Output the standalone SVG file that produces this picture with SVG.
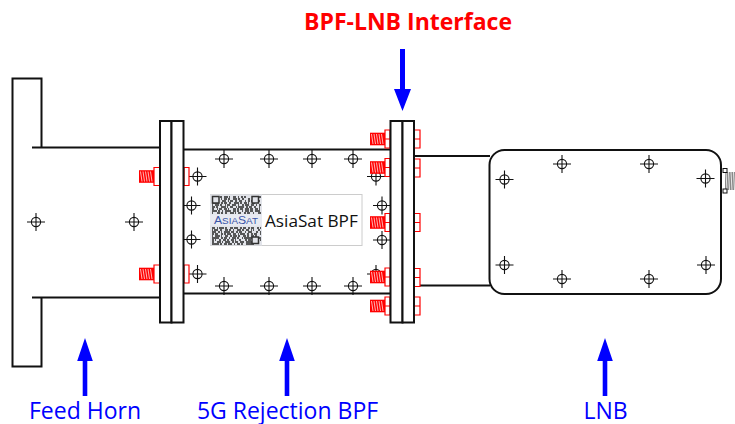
<svg xmlns="http://www.w3.org/2000/svg" width="735" height="424" viewBox="0 0 735 424">
<style>
.l{fill:none;stroke:#111;stroke-width:2}
.f{fill:#fff;stroke:#111;stroke-width:2}
.c{fill:none;stroke:#111;stroke-width:1.1}
.r{fill:#fff;stroke:#f00;stroke-width:1.2}
.t{fill:#00f;font-family:"Open Sans","Noto Sans",sans-serif;font-size:23px}
.a{fill:#00f}
.q{fill:none;stroke:#333;stroke-width:1.8;stroke-opacity:.8}
</style>
<defs>
<g id="x"><circle r="4.600" class="c"/><path d="M-9 0H9M0-9V9" class="c"/></g>
<g id="th"><rect x="0" y="-6.300" width="15" height="12.600" fill="#f00"/><path d="M1.500-5L3 5M4-5L5.500 5M6.500-5L8 5M9-5L10.500 5M11.500-5L13 5" stroke="#fff" stroke-width=".7" fill="none"/></g>
<g id="bf"><use href="#th" x="-21"/><path d="M-6-9H0V9H-6Z" class="r"/></g>
<g id="bl"><use href="#th" x="-20"/><path d="M-5-9H0V9H-5ZM-5 0H0" class="r"/></g>
<g id="nr"><path d="M0-9H6V9H0ZM0 0H6" class="r"/></g>
<g id="nl"><path d="M0-9H5V9H0Z" class="r"/></g>
</defs>
<g id="feed-horn">
<path class="l" d="M32 147.500H160M32 297.500H160M41.500 147.500V78.500H12.500V366.500H41.500V297.500"/>
<use href="#x" x="36" y="222"/><use href="#x" x="134" y="222"/>
<use href="#bf" x="160" y="176.500"/><use href="#bf" x="160" y="274"/>
</g>
<g id="bpf">
<path class="l" d="M184 149.500H390M184 293.500H390"/>
<use href="#x" x="224" y="159"/><use href="#x" x="269" y="159"/><use href="#x" x="312" y="159"/><use href="#x" x="353" y="159"/>
<use href="#x" x="224" y="286"/><use href="#x" x="269" y="286"/><use href="#x" x="312" y="286"/><use href="#x" x="353" y="286"/>
<use href="#x" x="197.500" y="176.500"/><use href="#x" x="197.500" y="274"/><use href="#x" x="191.500" y="205.500"/><use href="#x" x="191.500" y="239.500"/>
<use href="#x" x="376" y="176.500"/><use href="#x" x="376" y="274"/><use href="#x" x="382" y="205.500"/><use href="#x" x="382" y="240"/>
<use href="#nl" x="184" y="176.500"/><use href="#nl" x="184" y="274"/>
</g>
<g id="label">
<rect x="210.500" y="194.500" width="151.500" height="51" fill="#fff" stroke="#ccc" stroke-width="1"/>
<rect x="210" y="194.500" width="52" height="51" fill="#e2e4ea"/>
<g class="q">
<path d="M212 197H261" stroke-dasharray="7 1 2 2 4 1 1 3 3 2 1 2 2 1 2 8"/>
<path d="M212 199H261" stroke-dasharray="2 3 2 2 1 2 3 1 2 3 4 1 2 2 2 4 2 2 2"/>
<path d="M212 201H261" stroke-dasharray="2 1 1 1 2 3 4 2 1 1 3 2 2 2 3 3 1 2 2 1 2 2 2"/>
<path d="M212 203H261" stroke-dasharray="7 2 2 1 3 2 2 3 5 1 2 2 3 1 1 3 3"/>
<path d="M212 205H261" stroke-dasharray="1 2 4 1 2 3 1 1 3 2 4 2 1 3 2 1 4 2 3 2"/>
<path d="M212 207H261" stroke-dasharray="3 1 2 3 5 1 1 2 3 3 1 1 6 2 2 1 3 2 2"/>
<path d="M212 209H261" stroke-dasharray="2 3 1 1 3 2 3 1 1 4 3 1 2 1 3 2 4 1 3"/>
<path d="M212 211H261" stroke-dasharray="5 1 2 2 1 2 6 2 3 1 2 3 1 2 4 1 3 2"/>
<path d="M212 213H261" stroke-dasharray="1 4 3 1 2 2 2 3 4 1 1 2 3 3 2 1 3 3"/>
<path d="M212 228H261" stroke-dasharray="3 2 1 1 5 1 2 3 3 1 4 2 2 1 3 2 2 1 3"/>
<path d="M212 230H261" stroke-dasharray="1 1 4 2 2 3 3 1 2 2 1 3 4 1 2 2 3 2 1"/>
<path d="M212 232H261" stroke-dasharray="4 2 2 1 1 2 6 1 3 2 2 1 3 3 1 2 4"/>
<path d="M212 234H261" stroke-dasharray="2 1 3 3 2 1 2 1 4 2 3 2 1 1 5 2 2 2"/>
<path d="M212 236H261" stroke-dasharray="1 2 5 1 1 3 3 2 2 1 4 1 2 3 3 1 2 2 3"/>
<path d="M212 238H261" stroke-dasharray="7 2 2 1 3 2 1 2 4 1 2 3 1 1 8"/>
<path d="M212 240H261" stroke-dasharray="2 1 1 3 2 2 3 1 2 2 3 1 1 3 2 4 2 1 3"/>
<path d="M212 242H261" stroke-dasharray="2 3 4 1 1 2 5 2 2 1 3 2 4 2 6"/>
<path d="M212 244H261" stroke-dasharray="7 1 2 2 3 1 4 2 1 2 3 1 2 3 8"/>
</g>
<path d="M212.500 196.500h6.500v6.500h-6.500zM252 196.500h6.500v6.500h-6.500zM252 237h6.500v6.500h-6.500z" fill="#e2e4ea" stroke="#333" stroke-width="1.500"/>
<rect x="210" y="214.500" width="52" height="11" fill="#e8eaf1"/>
<text x="214" y="224" fill="#3a55a8" font-family="Liberation Sans,sans-serif" font-size="10.500" textLength="44" lengthAdjust="spacingAndGlyphs">A<tspan font-size="8.500">SIA</tspan>S<tspan font-size="8.500">AT</tspan></text>
<text x="265" y="226.500" fill="#111" font-family="Open Sans,Noto Sans,sans-serif" font-size="17.200">AsiaSat BPF</text>
</g>
<g id="lnb">
<path class="l" d="M414 156H490M414 285.500H490"/>
<rect x="725" y="172" width="10" height="18" fill="#888"/>
<path d="M726 172l1 18M728.500 172l1 18M731 172l1 18M733.500 172l1 18" stroke="#fff" stroke-width=".8"/>
<rect x="723" y="168.500" width="4" height="4" fill="#fff" stroke="#111"/><rect x="723" y="189" width="4" height="4" fill="#fff" stroke="#111"/>
<rect x="489.500" y="150" width="231.500" height="144" rx="15" ry="15" class="f"/>
<use href="#x" x="504.500" y="179.500"/><use href="#x" x="562" y="164"/><use href="#x" x="649" y="164"/><use href="#x" x="705.500" y="178.500"/>
<use href="#x" x="504.500" y="265"/><use href="#x" x="562" y="279"/><use href="#x" x="649" y="279"/><use href="#x" x="706" y="265"/>
</g>
<g id="flange-1">
<rect x="160" y="121" width="11.500" height="201.500" class="f"/><rect x="171.500" y="121" width="12" height="201.500" class="f"/>
</g>
<g id="flange-2">
<use href="#bl" x="390" y="139"/><use href="#bl" x="390" y="167.500"/><use href="#bl" x="390" y="222.500"/><use href="#bl" x="390" y="277"/><use href="#bl" x="390" y="306"/>
<use href="#nr" x="414" y="139"/><use href="#nr" x="414" y="168"/><use href="#nr" x="414" y="222.500"/><use href="#nr" x="414" y="277.500"/><use href="#nr" x="414" y="306"/>
<rect x="390.500" y="121" width="12" height="201.500" class="f"/><rect x="402.500" y="121" width="11.500" height="201.500" class="f"/>
</g>
<g id="connectors">
<path class="a" d="M400 49h5v40h6l-8.500 22-8.500-22h6z"/>
<path class="a" d="M82.700 396V361h-5.500l7.800-23 7.800 23h-5.500v35z"/>
<path class="a" d="M284.700 396V361h-5.500l7.800-23 7.800 23h-5.500v35z"/>
<path class="a" d="M602.700 396V361h-5.500l7.800-23 7.800 23h-5.500v35z"/>
</g>
<g id="labels">
<text x="408" y="30" text-anchor="middle" fill="#f00" font-family="Open Sans,Noto Sans,sans-serif" font-size="23" font-weight="bold">BPF-LNB Interface</text>
<text class="t" x="85" y="419" text-anchor="middle">Feed Horn</text>
<text class="t" x="287.500" y="419" text-anchor="middle">5G Rejection BPF</text>
<text class="t" x="605.500" y="419" text-anchor="middle">LNB</text>
</g>
</svg>
